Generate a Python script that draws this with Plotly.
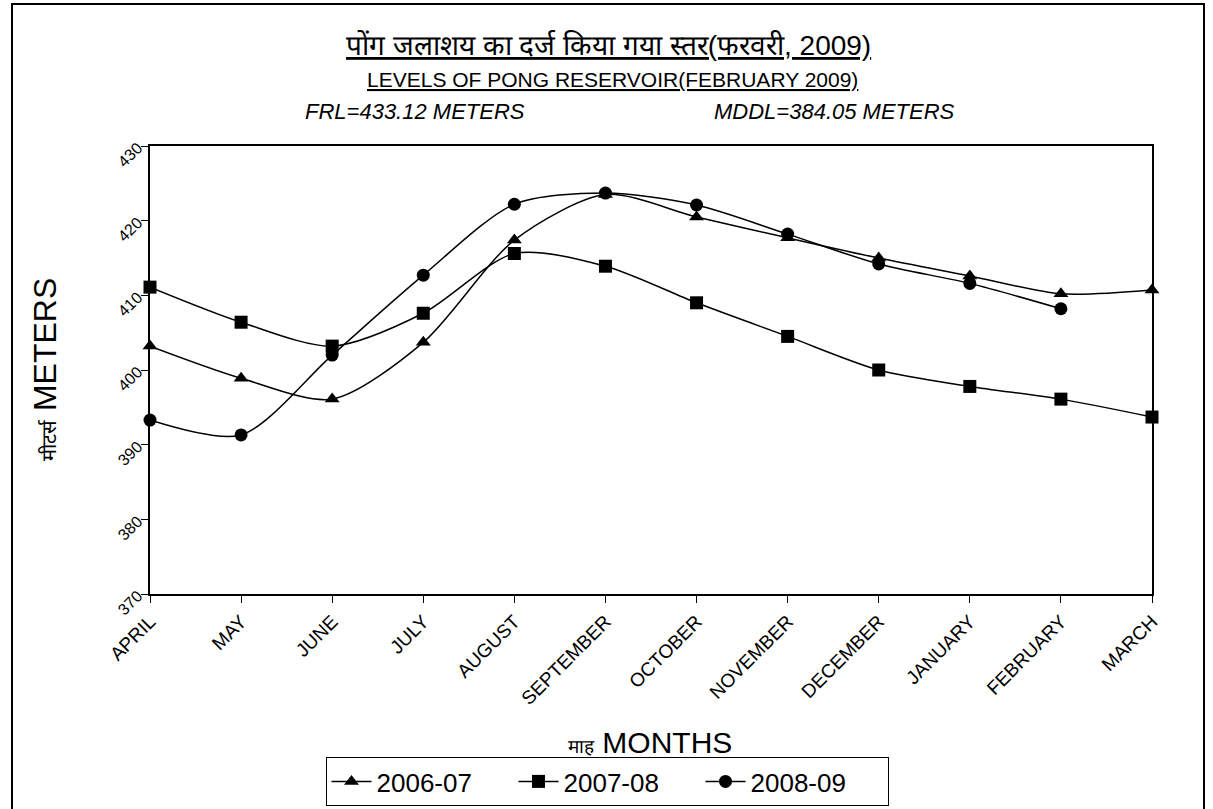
import plotly.graph_objects as go

months = ["APRIL", "MAY", "JUNE", "JULY", "AUGUST", "SEPTEMBER", "OCTOBER",
          "NOVEMBER", "DECEMBER", "JANUARY", "FEBRUARY", "MARCH"]
level_2006_07 = [403.2, 398.9, 396.1, 403.7, 417.4, 423.5, 420.5, 417.7, 415.0, 412.6, 410.2, 410.7]
level_2007_08 = [411.1, 406.4, 403.2, 407.6, 415.6, 413.9, 409.0, 404.5, 400.0, 397.8, 396.1, 393.7]
level_2008_09 = [393.3, 391.3, 402.0, 412.7, 422.2, 423.7, 422.1, 418.2, 414.2, 411.6, 408.2]
y_ticks = [370, 380, 390, 400, 410, 420, 430]

W, H = 1213, 809
L, R, T, B = 150, 61, 146, 215

def px(x):
    return (x - L) / (W - L - R)

def py(y):
    return (H - B - y) / (H - T - B)

fig = go.Figure()
series = [("2006-07", level_2006_07, "triangle-up"),
          ("2007-08", level_2007_08, "square"),
          ("2008-09", level_2008_09, "circle")]
for name, vals, sym in series:
    fig.add_trace(go.Scatter(
        x=months[:len(vals)], y=vals, name=name, mode="lines+markers",
        line=dict(color="black", width=1.5, shape="spline", smoothing=0.8),
        marker=dict(symbol=sym, size=13, color="black"),
        cliponaxis=False,
    ))

fig.update_layout(
    width=W, height=H,
    margin=dict(l=L, r=R, t=T, b=B, autoexpand=False),
    paper_bgcolor="white", plot_bgcolor="white",
    font=dict(family="Liberation Sans, Arial", color="black"),
    showlegend=True,
    legend=dict(orientation="h", x=px(607), xanchor="center", y=py(757), yanchor="top",
                bordercolor="black", borderwidth=1, font=dict(size=26),
                itemwidth=40, entrywidth=132, tracegroupgap=0),
)
fig.update_xaxes(
    type="category", categoryorder="array", categoryarray=months,
    range=[0, len(months) - 1], showline=True, linecolor="black", linewidth=2,
    mirror=True, ticks="outside", ticklen=7, tickcolor="black",
    tickangle=-45, tickfont=dict(size=19), showgrid=False, zeroline=False,
)
fig.update_yaxes(
    range=[370, 430], tickvals=y_ticks, showline=True, linecolor="black", linewidth=2,
    mirror=True, ticks="outside", ticklen=7, tickcolor="black",
    tickangle=-45, tickfont=dict(size=16), showgrid=False, zeroline=False,
)

ann = [
    dict(x=px(608), y=py(45), text="<u>पोंग जलाशय का दर्ज किया गया स्तर(फरवरी, 2009)</u>",
         font=dict(size=28)),
    dict(x=px(612), y=py(80), text="<u>LEVELS OF PONG RESERVOIR(FEBRUARY 2009)</u>",
         font=dict(size=21)),
    dict(x=px(415), y=py(112), text="<i>FRL=433.12 METERS</i>",
         font=dict(size=22)),
    dict(x=px(834), y=py(112), text="<i>MDDL=384.05 METERS</i>",
         font=dict(size=22)),
    dict(x=px(45), y=py(370), text="<span style='font-size:20px'>मीटर्स</span> METERS",
         textangle=-90, font=dict(size=32)),
    dict(x=px(650), y=py(742), text="<span style='font-size:19px'>माह</span> MONTHS",
         font=dict(size=30)),
]
for a in ann:
    fig.add_annotation(xref="paper", yref="paper", showarrow=False,
                       xanchor="center", yanchor="middle", **a)

# page border
fig.add_shape(type="rect", xref="paper", yref="paper",
              x0=px(12), x1=px(1204), y0=py(4), y1=py(830),
              line=dict(color="black", width=2))

fig.write_html("out.html", config={"displayModeBar": False},
               post_script="document.body.style.margin='0';")
